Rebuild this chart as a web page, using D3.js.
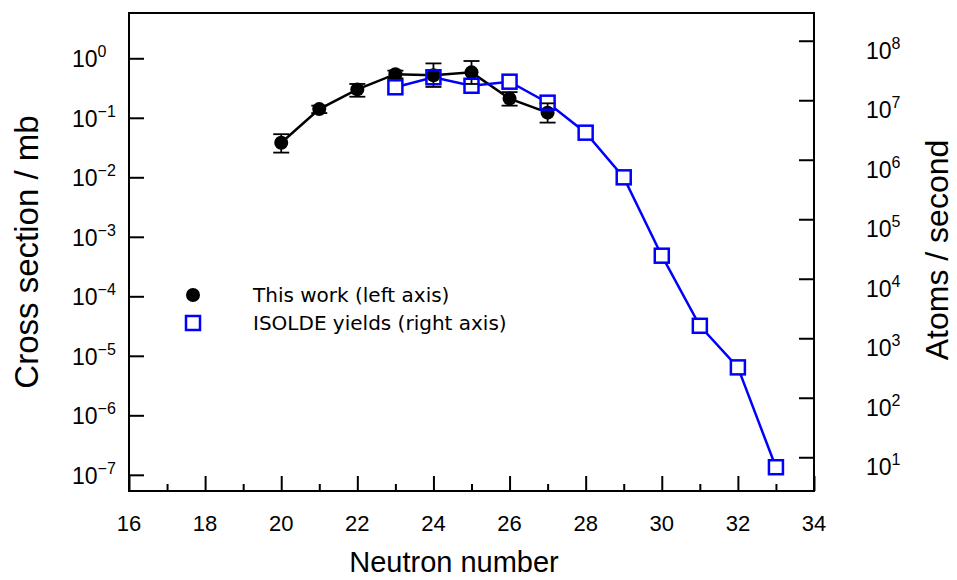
<!DOCTYPE html>
<html>
<head>
<meta charset="utf-8">
<script src="https://cdn.jsdelivr.net/npm/d3@7"></script>
<style>
  body { margin: 0; background: #fff; }
  text { font-family: "Liberation Sans", Arial, sans-serif; fill: #000; }
  .legend text { font-family: "DejaVu Sans", sans-serif; }
</style>
</head>
<body>
<svg id="chart" width="957" height="580"></svg>
<script>
// cross sections (this work, left axis)
const csN = [20, 21, 22, 23, 24, 25, 26, 27];
const csVal = [0.038, 0.14, 0.30, 0.54, 0.52, 0.58, 0.21, 0.122];
const csLow = [0.026, 0.12, 0.226, 0.46, 0.33, 0.37, 0.16, 0.083];
const csHigh = [0.053, 0.16, 0.37, 0.62, 0.82, 0.90, 0.27, 0.175];

// ISOLDE yields (right axis)
const isoN = [23, 24, 25, 26, 27, 28, 29, 30, 31, 32, 33];
const isoVal = [1.65e7, 2.43e7, 1.75e7, 2.05e7, 9.1e6, 2.85e6, 5.06e5, 2.44e4, 1.62e3, 324, 6.8];

// tick labels
const xTicks = [16, 18, 20, 22, 24, 26, 28, 30, 32, 34];
const xMinor = [17, 19, 21, 23, 25, 27, 29, 31, 33];
const leftExp = [0, -1, -2, -3, -4, -5, -6, -7];
const rightExp = [8, 7, 6, 5, 4, 3, 2, 1];

const L = 129, R = 814, T = 13, B = 491;

const svg = d3.select("#chart");

const x = d3.scaleLinear().domain([16, 34]).range([L, R]);
const yL = d3.scaleLog().domain([Math.pow(10, -7.272), Math.pow(10, 0.761)]).range([B, T]);
const yR = d3.scaleLog().domain([Math.pow(10, 0.433), Math.pow(10, 8.466)]).range([B, T]);

// ticks (inward)
function styleAxis(g) {
  g.select(".domain").remove();
  g.selectAll(".tick line").attr("stroke", "#000").attr("stroke-width", 2);
  g.selectAll(".tick text").remove();
}

svg.append("g").attr("transform", `translate(0,${B})`)
  .call(d3.axisBottom(x).tickValues(xTicks).tickSize(-15)).call(styleAxis);
svg.append("g").attr("transform", `translate(0,${B})`)
  .call(d3.axisBottom(x).tickValues(xMinor).tickSize(-7)).call(styleAxis);
svg.append("g").attr("transform", `translate(${L},0)`)
  .call(d3.axisLeft(yL).tickValues(leftExp.map(e => Math.pow(10, e))).tickSize(-15)).call(styleAxis);
svg.append("g").attr("transform", `translate(${R},0)`)
  .call(d3.axisRight(yR).tickValues(rightExp.map(e => Math.pow(10, e))).tickSize(-15)).call(styleAxis);

// frame
svg.append("rect")
  .attr("x", L).attr("y", T).attr("width", R - L).attr("height", B - T)
  .attr("fill", "none").attr("stroke", "#000").attr("stroke-width", 2);

// tick labels
svg.append("g").selectAll("text").data(xTicks).join("text")
  .attr("x", d => x(d)).attr("y", B + 40)
  .attr("text-anchor", "middle").attr("font-size", 22)
  .text(d => d);

function powLabel(sel, xPos, yPos) {
  sel.attr("x", xPos).attr("y", yPos).attr("font-size", 23);
  sel.append("tspan").text("10");
  sel.append("tspan").attr("dy", -10).attr("font-size", 16)
    .text(d => String(d).replace("-", "\u2212"));
}

svg.append("g").selectAll("text").data(leftExp).join("text")
  .each(function (d) { powLabel(d3.select(this), 72, yL(Math.pow(10, d)) + 9); });

svg.append("g").selectAll("text").data(rightExp).join("text")
  .each(function (d) { powLabel(d3.select(this), 866, yR(Math.pow(10, d)) + 18); });

// axis titles
svg.append("text").attr("x", 454).attr("y", 572)
  .attr("text-anchor", "middle").attr("font-size", 29).text("Neutron number");
svg.append("text").attr("transform", `translate(38,252) rotate(-90)`)
  .attr("text-anchor", "middle").attr("font-size", 33).text("Cross section / mb");
svg.append("text").attr("transform", `translate(948,250) rotate(-90)`)
  .attr("text-anchor", "middle").attr("font-size", 32).text("Atoms / second");

// this work: line, error bars, circles
const cs = csN.map((n, i) => ({ n, v: csVal[i], lo: csLow[i], hi: csHigh[i] }));

svg.append("path").datum(cs)
  .attr("fill", "none").attr("stroke", "#000").attr("stroke-width", 2.5)
  .attr("d", d3.line().x(d => x(d.n)).y(d => yL(d.v)));

const err = svg.append("g").attr("stroke", "#000").attr("stroke-width", 1.8);
err.selectAll("line.v").data(cs).join("line").attr("class", "v")
  .attr("x1", d => x(d.n)).attr("x2", d => x(d.n))
  .attr("y1", d => yL(d.lo)).attr("y2", d => yL(d.hi));
err.selectAll("line.lo").data(cs).join("line").attr("class", "lo")
  .attr("x1", d => x(d.n) - 8).attr("x2", d => x(d.n) + 8)
  .attr("y1", d => yL(d.lo)).attr("y2", d => yL(d.lo));
err.selectAll("line.hi").data(cs).join("line").attr("class", "hi")
  .attr("x1", d => x(d.n) - 8).attr("x2", d => x(d.n) + 8)
  .attr("y1", d => yL(d.hi)).attr("y2", d => yL(d.hi));

svg.append("g").selectAll("circle").data(cs).join("circle")
  .attr("cx", d => x(d.n)).attr("cy", d => yL(d.v)).attr("r", 7).attr("fill", "#000");

// ISOLDE: line (not drawn inside the squares), squares
const iso = isoN.map((n, i) => ({ n, v: isoVal[i] }));
const sq = 14;

const mask = svg.append("defs").append("mask").attr("id", "sqmask")
  .attr("maskUnits", "userSpaceOnUse").attr("x", 0).attr("y", 0).attr("width", 957).attr("height", 580);
mask.append("rect").attr("width", 957).attr("height", 580).attr("fill", "#fff");
mask.selectAll("rect.hole").data(iso).join("rect").attr("class", "hole")
  .attr("x", d => x(d.n) - sq / 2).attr("y", d => yR(d.v) - sq / 2)
  .attr("width", sq).attr("height", sq).attr("fill", "#000");

svg.append("path").datum(iso)
  .attr("fill", "none").attr("stroke", "#0000ff").attr("stroke-width", 2.5)
  .attr("mask", "url(#sqmask)")
  .attr("d", d3.line().x(d => x(d.n)).y(d => yR(d.v)));

svg.append("g").selectAll("rect").data(iso).join("rect")
  .attr("x", d => x(d.n) - sq / 2).attr("y", d => yR(d.v) - sq / 2)
  .attr("width", sq).attr("height", sq)
  .attr("fill", "none").attr("stroke", "#0000ff").attr("stroke-width", 2.5);

// legend
const leg = svg.append("g").attr("class", "legend");
leg.append("circle").attr("cx", 193).attr("cy", 295).attr("r", 7).attr("fill", "#000");
leg.append("rect").attr("x", 186).attr("y", 316).attr("width", 14).attr("height", 14)
  .attr("fill", "none").attr("stroke", "#0000ff").attr("stroke-width", 2.5);
leg.append("text").attr("x", 253).attr("y", 302).attr("font-size", 20).text("This work (left axis)");
leg.append("text").attr("x", 253).attr("y", 330).attr("font-size", 20).text("ISOLDE yields (right axis)");
</script>
</body>
</html>
